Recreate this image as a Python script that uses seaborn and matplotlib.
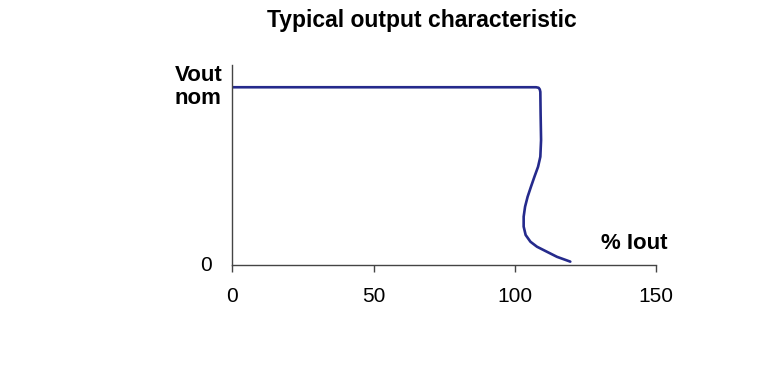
import matplotlib
matplotlib.use("Agg")
import matplotlib.pyplot as plt
import seaborn as sns
import pandas as pd

# curve: % of nominal output current vs output voltage (1 = Vout nom)
iout_pct = [0, 50, 100, 107.5, 108.4, 108.8, 109.0, 109.1, 109.26, 109.0, 108.2,
            106.9, 105.7, 104.5, 103.6, 103.1, 103.1, 103.8, 105.5, 107.8, 111.4,
            114.9, 119.6]
vout_rel = [1.0, 1.0, 1.0, 1.0, 0.997, 0.988, 0.974, 0.85, 0.703, 0.609, 0.553,
            0.496, 0.441, 0.384, 0.328, 0.272, 0.216, 0.169, 0.131, 0.103, 0.074,
            0.046, 0.019]
x_ticks = [0, 50, 100, 150]

title = "Typical output characteristic"
y_top_label = "Vout\nnom"
y_zero_label = "0"
x_label = "% Iout"

sns.set_style("ticks")
plt.rcParams["font.family"] = ["Liberation Sans", "DejaVu Sans"]
plt.rcParams["text.color"] = "black"
plt.rcParams["xtick.color"] = "black"

df = pd.DataFrame({"iout": iout_pct, "vout": vout_rel})

fig = plt.figure(figsize=(7.76, 3.72), dpi=100)
ax = fig.add_axes([0.2994, 0.2876, 0.5462, 0.5376])

sns.lineplot(data=df, x="iout", y="vout", sort=False, estimator=None,
             color="#252a8c", linewidth=1.9, ax=ax)

ax.set_xlim(0, 150)
ax.set_ylim(0, 1.125)
ax.set_xticks(x_ticks)
ax.set_xticklabels([str(t) for t in x_ticks], fontsize=15)
ax.set_yticks([])
ax.set_xlabel("")
ax.set_ylabel("")
ax.tick_params(axis="x", direction="out", length=5, width=1, color="#444444",
               labelcolor="black", pad=11)

sns.despine(ax=ax)
for s in ["left", "bottom"]:
    ax.spines[s].set_color("#444444")
    ax.spines[s].set_linewidth(1.0)

# y-axis labels drawn as text next to the spine
ax.annotate(y_top_label, xy=(0, 1.0), xycoords=("axes fraction", "data"),
            xytext=(-10, 0), textcoords="offset pixels", ha="right", va="center",
            multialignment="left", fontsize=16, fontweight="bold", linespacing=1.15)
ax.annotate(y_zero_label, xy=(0, 0), xycoords=("axes fraction", "data"),
            xytext=(-20, 0), textcoords="offset pixels", ha="right", va="center",
            fontsize=15)
ax.annotate(x_label, xy=(1, 0.121), xycoords=("axes fraction", "data"),
            xytext=(11, 0), textcoords="offset pixels", ha="right", va="center",
            fontsize=16, fontweight="bold")

fig.text(0.544, 0.946, title, ha="center", va="center", fontsize=16.5, fontweight="bold")

fig.savefig("out.png", dpi=100)
